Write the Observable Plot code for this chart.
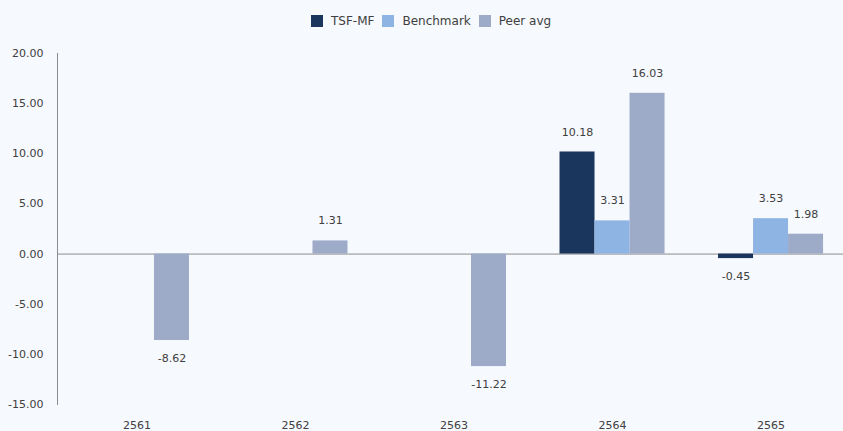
<!DOCTYPE html>
<html><head><meta charset="utf-8">
<script src="https://cdn.jsdelivr.net/npm/d3@7"></script>
<script src="https://cdn.jsdelivr.net/npm/@observablehq/plot@0.6"></script>
<style>
html,body{margin:0;padding:0;background:#f6f9fd;font-family:"DejaVu Sans",sans-serif;overflow:hidden;}
#legend{height:36px;display:flex;align-items:center;padding-left:311px;padding-top:5px;box-sizing:border-box;font-size:12px;color:#404040;}
.item{display:flex;align-items:center;margin-right:8px;}
.sw{width:12px;height:12px;margin-right:8px;}
</style></head><body>
<div id="legend"></div>
<div id="chart"></div>
<script>
const years = ["2561", "2562", "2563", "2564", "2565"];
const seriesNames = ["TSF-MF", "Benchmark", "Peer avg"];
const tsfMf = [null, null, null, 10.18, -0.45];
const benchmark = [null, null, null, 3.31, 3.53];
const peerAvg = [-8.62, 1.31, -11.22, 16.03, 1.98];
const yTicks = [-15, -10, -5, 0, 5, 10, 15, 20];
const colors = ["#1b365d", "#8db4e2", "#9dabc8"];

const seriesValues = [tsfMf, benchmark, peerAvg];
const legend = document.getElementById("legend");
seriesNames.forEach((s, i) => {
  const it = document.createElement("div");
  it.className = "item";
  it.innerHTML = `<div class="sw" style="background:${colors[i]}"></div><span>${s}</span>`;
  legend.appendChild(it);
});

const W = 843, H = 395, mL = 57, mR = 0;
const xRange = [57, 850];
const pInner = 0.3375, pOuter = 0.17;
const step = (xRange[1] - xRange[0]) / (years.length - pInner + 2 * pOuter);
const third = step * (1 - pInner) / 3;
const f2 = d3.format(".2f");
const fmt = d => f2(d).replace("\u2212", "-");

const marks = [
  Plot.ruleY([0], {stroke: "#8c8c8c"}),
  Plot.frame({anchor: "left", stroke: "#8c8c8c"})
];
seriesNames.forEach((s, i) => {
  const rows = years.map((y, j) => ({year: y, series: s, value: seriesValues[i][j]})).filter(d => d.value != null);
  marks.push(Plot.barY(rows, {x: "year", y: "value", fill: colors[i], insetLeft: i * third, insetRight: (2 - i) * third}));
  marks.push(Plot.text(rows.filter(d => d.value >= 0), {x: "year", y: "value", text: d => fmt(d.value), dx: (i - 1) * third, dy: -20, fill: "#404040"}));
  marks.push(Plot.text(rows.filter(d => d.value < 0), {x: "year", y: "value", text: d => fmt(d.value), dx: (i - 1) * third, dy: 18, fill: "#404040"}));
});
marks.push(Plot.axisY({ticks: yTicks, tickFormat: fmt, tickSize: 0, tickPadding: 14, fill: "#404040", label: null}));
marks.push(Plot.axisX({tickSize: 0, tickPadding: 17, fill: "#404040", label: null}));

const chart = Plot.plot({
  width: W, height: H,
  marginLeft: mL, marginRight: mR, marginTop: 17, marginBottom: 27,
  style: {background: "transparent", color: "#404040", fontFamily: "DejaVu Sans", fontSize: "11px", overflow: "visible"},
  x: {domain: years, range: xRange, paddingInner: pInner, paddingOuter: pOuter, round: false},
  y: {domain: [-15, 20]},
  marks
});
document.getElementById("chart").appendChild(chart);
</script>
</body></html>
